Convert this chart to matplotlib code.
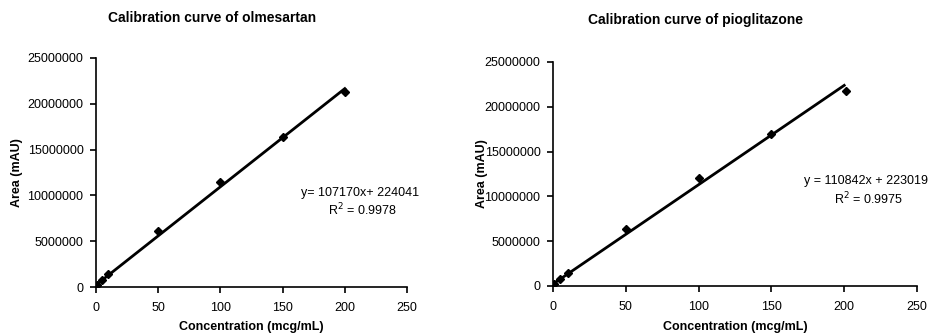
import matplotlib
matplotlib.use("Agg")
import matplotlib.pyplot as plt
import numpy as np

plt.rcParams['font.family'] = ['Liberation Sans', 'DejaVu Sans']

conc = [1, 5, 10, 50, 100, 150, 200]
olm_area = [200000, 800000, 1400000, 6100000, 11500000, 16400000, 21300000]
pio_conc = [1, 5, 10, 50, 100, 150, 201]
pio_area = [200000, 750000, 1400000, 6400000, 12000000, 17000000, 21800000]

olm_fit = (107170, 224041, 0.9978)
pio_fit = (110842, 223019, 0.9975)

titles = ["Calibration curve of olmesartan", "Calibration curve of pioglitazone"]
eq_texts = ["y= 107170x+ 224041", "y = 110842x + 223019"]
r2_texts = ["R$^{2}$ = 0.9978", "R$^{2}$ = 0.9975"]
xticks = [0, 50, 100, 150, 200, 250]
yticks = [0, 5000000, 10000000, 15000000, 20000000, 25000000]

W, H = 934, 334
fig = plt.figure(figsize=(W / 100, H / 100), dpi=100)

boxes = [(96, 58, 407, 287), (553, 62, 917, 286)]
datasets = [(conc, olm_area, olm_fit), (pio_conc, pio_area, pio_fit)]
eq_pos = [((360, 193), (362, 210)), ((866, 181), (868, 199))]
title_pos = [(212, 18), (695, 20)]
ylab_x = [17, 482]

for i in range(2):
    l, t, r, b = boxes[i]
    ax = fig.add_axes([l / W, 1 - b / H, (r - l) / W, (b - t) / H])
    x, y, (m, c, r2) = datasets[i]
    xf = np.array([0, 200])
    ax.plot(xf, m * xf + c, color='black', lw=2.0, zorder=2)
    ax.plot(x, y, linestyle='none', marker='D', color='black', markersize=4.2, zorder=3)
    ax.set_xlim(0, 250)
    ax.set_ylim(0, 25000000)
    ax.set_xticks(xticks)
    ax.set_yticks(yticks)
    ax.set_xticklabels([str(v) for v in xticks], fontsize=9)
    ax.set_yticklabels([str(v) for v in yticks], fontsize=9)
    for s in ['top', 'right']:
        ax.spines[s].set_visible(False)
    for s in ['left', 'bottom']:
        ax.spines[s].set_linewidth(1.2)
    ax.tick_params(direction='out', length=4, width=1.2, pad=5)
    ax.tick_params(axis='x', pad=7)
    fig.text(title_pos[i][0] / W, 1 - title_pos[i][1] / H, titles[i], ha='center', va='center',
             fontsize=10, fontweight='bold')
    fig.text((l + r) / 2 / W, 1 - 327 / H, "Concentration (mcg/mL)", ha='center', va='center',
             fontsize=9, fontweight='bold')
    fig.text(ylab_x[i] / W, 1 - (t + b) / 2 / H, "Area (mAU)", ha='center', va='center',
             rotation=90, fontsize=9, fontweight='bold')
    (ex, ey), (rx, ry) = eq_pos[i]
    fig.text(ex / W, 1 - ey / H, eq_texts[i], ha='center', va='center', fontsize=9)
    fig.text(rx / W, 1 - ry / H, r2_texts[i], ha='center', va='center', fontsize=9)

fig.savefig("out.png", dpi=100)
